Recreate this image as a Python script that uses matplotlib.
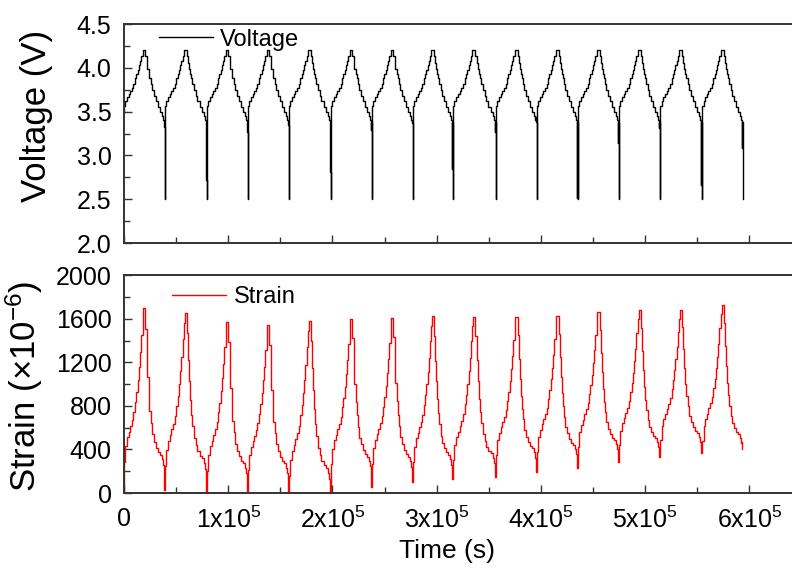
import matplotlib
matplotlib.use('Agg')

import matplotlib.pyplot as plt
from matplotlib.ticker import MultipleLocator, FuncFormatter

plt.rcParams['font.family'] = ['Liberation Sans', 'DejaVu Sans']
plt.rcParams['mathtext.fontset'] = 'custom'
plt.rcParams['mathtext.rm'] = 'Liberation Sans'
plt.rcParams['mathtext.it'] = 'Liberation Sans:italic'

cycle_end = [39400, 79700, 119000, 158400, 198700, 238100, 277400,
             315800, 357100, 396500, 435800, 475200, 514600, 554900, 594200]

# Voltaje: profundidad de la primera caída al final de cada ciclo (V)
v_dip = [3.33, 2.72, 3.27, 3.35, 2.81, 3.29, 3.37,
         2.85, 3.27, 3.44, 2.52, 3.14, 3.31, 2.66, 3.08]
v_cut = 2.5
v_start = 3.50

# Deformación (x1e-6): pico, nivel antes de la caída y mínimo de cada ciclo
s_peak = [1697, 1651, 1572, 1541, 1581, 1596, 1611,
          1624, 1620, 1620, 1625, 1665, 1680, 1680, 1725]
s_base = [349, 318, 272, 272, 226, 333, 333,
          349, 364, 410, 440, 486, 502, 548, 540]
s_dip = [28, 0, 0, 12, 12, 58, 104,
         128, 150, 196, 229, 284, 330, 370, 404]
s_start = 0

# Forma de un ciclo (fase 0..1): voltaje y fracción entre base y pico
phase = [0.00, 0.03, 0.07, 0.11, 0.15, 0.19, 0.23, 0.27, 0.30, 0.33,
         0.36, 0.39, 0.42, 0.45, 0.47, 0.50, 0.52, 0.55, 0.57, 0.60,
         0.62, 0.65, 0.69, 0.73, 0.77, 0.82, 0.87, 0.92, 0.95]
v_shape = [3.57, 3.62, 3.67, 3.70, 3.73, 3.77, 3.82, 3.88, 3.93, 3.98,
           4.03, 4.08, 4.14, 4.20, 4.20, 4.20, 4.13, 4.05, 3.99, 3.93,
           3.88, 3.82, 3.75, 3.68, 3.62, 3.55, 3.50, 3.45, 3.41]
s_shape = [-0.05, 0.06, 0.12, 0.16, 0.20, 0.24, 0.29, 0.36, 0.43, 0.51,
           0.60, 0.70, 0.82, 0.93, 1.00, 1.00, 0.86, 0.68, 0.53, 0.40,
           0.30, 0.22, 0.14, 0.09, 0.05, 0.02, 0.00, -0.03, -0.07]

t_v, v = [0.0], [v_start]
t_s, s = [0.0], [s_start]
start = 0.0
for k, end in enumerate(cycle_end):
    dur = end - start
    p, b = s_peak[k], s_base[k]
    for ph, vv, g in zip(phase, v_shape, s_shape):
        t_v.append(start + ph * dur)
        v.append(vv)
        t_s.append(start + ph * dur)
        s.append(b + g * (p - b))
    # caída de voltaje
    for ph, vv in zip([0.975, 0.98, 0.985, 0.99],
                      [v_dip[k], 3.38, v_dip[k], v_cut]):
        t_v.append(start + ph * dur)
        v.append(vv)
    # caída de deformación
    for ph, ss in zip([0.965, 0.98], [(b + s_dip[k]) / 2, s_dip[k]]):
        t_s.append(start + ph * dur)
        s.append(ss)
    start = end

fig = plt.figure(figsize=(7.92, 5.72), dpi=100)
ax1 = fig.add_axes([0.1566, 0.575, 0.8434, 0.383])
ax2 = fig.add_axes([0.1566, 0.138, 0.8434, 0.381])

ax1.plot(t_v, v, drawstyle='steps-post', color='black', lw=1.0, label='Voltage')
ax2.plot(t_s, s, drawstyle='steps-post', color='red', lw=1.0, label='Strain')

fs_tick = 18
fs_ylabel = 25
fs_xlabel = 19

for ax in (ax1, ax2):
    ax.set_xlim(0, 6.41e5)
    ax.xaxis.set_major_locator(MultipleLocator(1e5))
    ax.xaxis.set_minor_locator(MultipleLocator(0.5e5))
    ax.tick_params(which='both', direction='in', top=False, right=False,
                   width=1.0, color='#333333', labelsize=fs_tick)
    ax.tick_params(which='major', length=6)
    ax.tick_params(which='minor', length=4)
    ax.tick_params(axis='y', pad=9)
    ax.tick_params(axis='x', pad=10)
    ax.spines['right'].set_visible(False)
    for sp in ('left', 'bottom', 'top'):
        ax.spines[sp].set_linewidth(1.4)
        ax.spines[sp].set_color('#333333')

ax1.set_ylim(2.0, 4.5)
ax1.yaxis.set_major_locator(MultipleLocator(0.5))
ax1.yaxis.set_minor_locator(MultipleLocator(0.25))
ax1.yaxis.set_major_formatter(FuncFormatter(lambda y, pos: f'{y:.1f}'))
ax1.tick_params(axis='x', labelbottom=False)
ax1.set_ylabel('Voltage (V)', fontsize=fs_ylabel)
ax1.yaxis.set_label_coords(-0.106, 0.58)

ax2.set_ylim(0, 2000)
ax2.yaxis.set_major_locator(MultipleLocator(400))
ax2.yaxis.set_minor_locator(MultipleLocator(200))


def time_fmt(x, pos):
    k = int(round(x / 1e5))
    return '0' if k == 0 else f'{k}x10$^{{5}}$'


ax2.xaxis.set_major_formatter(FuncFormatter(time_fmt))
ax2.set_xlabel('Time (s)', fontsize=fs_xlabel)
ax2.xaxis.set_label_coords(0.484, -0.21)
ax2.set_ylabel('Strain (×10$^{-6}$)', fontsize=fs_ylabel)
ax2.yaxis.set_label_coords(-0.118, 0.49)

ax1.legend(loc='upper left', bbox_to_anchor=(0.045, 1.0), frameon=False,
           fontsize=17, handlelength=2.3, handletextpad=0.3,
           borderaxespad=0, borderpad=0.2)
ax2.legend(loc='upper left', bbox_to_anchor=(0.065, 0.97), frameon=False,
           fontsize=17, handlelength=2.3, handletextpad=0.3,
           borderaxespad=0, borderpad=0.2)

fig.savefig('out.png', dpi=100)
